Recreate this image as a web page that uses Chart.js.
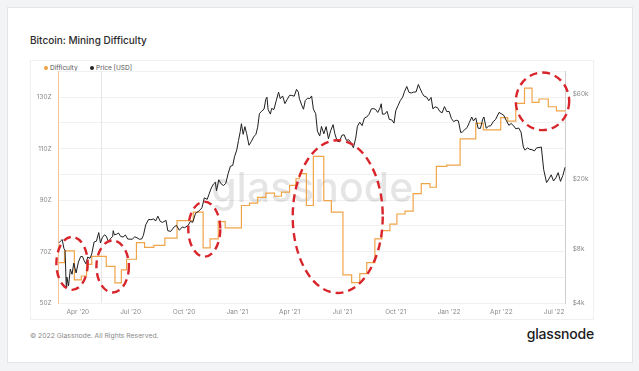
<!DOCTYPE html>
<html>
<head>
<meta charset="utf-8">
<script src="https://cdn.jsdelivr.net/npm/chart.js@4.4.1/dist/chart.umd.min.js"></script>
<style>
  body { margin: 0; width: 639px; height: 371px; background: #f3f4f6; font-family: Inter, "Noto Sans", sans-serif; position: relative; overflow: hidden; }
  .card { position: absolute; left: 7px; top: 7px; width: 626px; height: 356px; box-sizing: border-box; background: #fff; border: 1px solid #e3e5e8; }
  .title { position: absolute; left: 30px; top: 34px; font-size: 10px; font-weight: 500; color: #2b2b2b; white-space: nowrap; }
  .box { position: absolute; left: 30px; top: 60px; width: 564px; height: 260px; box-sizing: border-box; border: 1px solid #efefef; }
  .wrap { position: absolute; left: 30px; top: 60px; width: 564px; height: 260px; }
  .legend { position: absolute; top: 64px; font-size: 6.5px; color: #555; white-space: nowrap; line-height: 8px; }
  .legend i { display: inline-block; width: 4px; height: 4px; border-radius: 50%; margin-right: 2px; vertical-align: 0px; }
  .foot { position: absolute; left: 30px; top: 331px; font-size: 6.8px; color: #8a8a8a; white-space: nowrap; }
  .logo { position: absolute; right: 45px; top: 325px; font-size: 14px; font-weight: 500; color: #1b1b1b; letter-spacing: -0.2px; }
</style>
</head>
<body>
<div class="card"></div>
<div class="title">Bitcoin: Mining Difficulty</div>
<div class="box"></div>
<div class="legend" style="left:44px"><i style="background:#f0a040"></i>Difficulty</div>
<div class="legend" style="left:90px"><i style="background:#222"></i>Price [USD]</div>
<div class="wrap"><canvas id="chart"></canvas></div>
<div class="foot">© 2022 Glassnode. All Rights Reserved.</div>
<div class="logo">glassnode</div>
<script>
// Difficulty (Z hashes), step changes
const diffDates = [
  '2020-02-28','2020-03-09','2020-03-26','2020-04-07','2020-04-16','2020-04-25','2020-05-20','2020-06-04',
  '2020-06-15','2020-06-24','2020-07-11','2020-07-25','2020-08-10','2020-08-29','2020-09-19','2020-10-17',
  '2020-11-03','2020-11-15','2020-11-29','2020-12-11','2021-01-08','2021-01-22','2021-02-05','2021-02-19',
  '2021-03-06','2021-03-18','2021-04-01','2021-04-12','2021-04-18','2021-04-30','2021-05-12','2021-05-30',
  '2021-06-12','2021-07-02','2021-07-17','2021-07-31','2021-08-12','2021-08-26','2021-09-07','2021-09-21',
  '2021-10-03','2021-10-17','2021-10-31','2021-11-14','2021-11-29','2021-12-10','2021-12-28','2022-01-20',
  '2022-02-16','2022-03-01','2022-03-31','2022-04-12','2022-04-26','2022-05-11','2022-05-24','2022-06-05',
  '2022-06-21','2022-07-05','2022-07-21'
];
const diffValues = [
  65.7, 70.3, 59.0, 60.5, 65.0, 68.1, 64.2, 57.8,
  62.9, 67.0, 73.5, 71.6, 72.4, 75.2, 82.0, 85.3,
  71.4, 74.9, 81.6, 79.2, 87.9, 88.8, 91.1, 92.7,
  91.5, 93.1, 95.7, 98.3, 100.3, 87.9, 107.0, 89.8,
  85.3, 60.9, 57.9, 61.4, 65.7, 74.9, 78.1, 80.7,
  84.6, 85.7, 92.5, 96.4, 95.0, 103.1, 103.6, 113.8,
  119.8, 117.3, 122.1, 120.7, 127.6, 133.5, 128.0, 129.3,
  126.3, 124.7, 124.7
];

// BTC price (USD)
const priceDates = [
  '2020-02-28','2020-03-02','2020-03-05','2020-03-08','2020-03-10','2020-03-12','2020-03-13','2020-03-16','2020-03-19','2020-03-22',
  '2020-03-25','2020-03-29','2020-04-02','2020-04-06','2020-04-09','2020-04-12','2020-04-15','2020-04-18','2020-04-22','2020-04-25',
  '2020-04-29','2020-05-03','2020-05-07','2020-05-10','2020-05-13','2020-05-17','2020-05-20','2020-05-24','2020-05-27','2020-05-31',
  '2020-06-01','2020-06-03','2020-06-07','2020-06-10','2020-06-14','2020-06-18','2020-06-22','2020-06-26','2020-06-30','2020-07-04',
  '2020-07-08','2020-07-12','2020-07-16','2020-07-20','2020-07-23','2020-07-27','2020-08-01','2020-08-05','2020-08-10','2020-08-13',
  '2020-08-17','2020-08-21','2020-08-25','2020-08-31','2020-09-03','2020-09-08','2020-09-14','2020-09-18','2020-09-23','2020-09-28',
  '2020-10-02','2020-10-08','2020-10-12','2020-10-16','2020-10-21','2020-10-25','2020-10-28','2020-11-01','2020-11-05','2020-11-10',
  '2020-11-13','2020-11-17','2020-11-21','2020-11-24','2020-11-26','2020-11-30','2020-12-04','2020-12-08','2020-12-12','2020-12-16',
  '2020-12-20','2020-12-24','2020-12-27','2020-12-31','2021-01-03','2021-01-06','2021-01-08','2021-01-11','2021-01-14','2021-01-17',
  '2021-01-21','2021-01-25','2021-01-29','2021-02-02','2021-02-05','2021-02-08','2021-02-12','2021-02-16','2021-02-19','2021-02-21',
  '2021-02-23','2021-02-27','2021-03-01','2021-03-05','2021-03-09','2021-03-13','2021-03-16','2021-03-20','2021-03-24','2021-03-28',
  '2021-04-01','2021-04-05','2021-04-09','2021-04-13','2021-04-16','2021-04-18','2021-04-22','2021-04-25','2021-04-28','2021-05-02',
  '2021-05-06','2021-05-09','2021-05-12','2021-05-16','2021-05-19','2021-05-23','2021-05-26','2021-05-30','2021-06-03','2021-06-07',
  '2021-06-11','2021-06-15','2021-06-18','2021-06-22','2021-06-26','2021-06-30','2021-07-04','2021-07-08','2021-07-12','2021-07-16',
  '2021-07-20','2021-07-24','2021-07-27','2021-07-31','2021-08-04','2021-08-08','2021-08-12','2021-08-16','2021-08-20','2021-08-23',
  '2021-08-27','2021-08-31','2021-09-04','2021-09-06','2021-09-08','2021-09-12','2021-09-16','2021-09-20','2021-09-24','2021-09-28',
  '2021-10-01','2021-10-05','2021-10-09','2021-10-13','2021-10-16','2021-10-20','2021-10-24','2021-10-28','2021-11-01','2021-11-05',
  '2021-11-09','2021-11-12','2021-11-16','2021-11-19','2021-11-23','2021-11-27','2021-12-01','2021-12-04','2021-12-08','2021-12-12',
  '2021-12-16','2021-12-20','2021-12-24','2021-12-28','2022-01-01','2022-01-05','2022-01-09','2022-01-13','2022-01-17','2022-01-21',
  '2022-01-24','2022-01-28','2022-02-01','2022-02-05','2022-02-09','2022-02-12','2022-02-16','2022-02-20','2022-02-24','2022-02-28',
  '2022-03-02','2022-03-06','2022-03-10','2022-03-14','2022-03-18','2022-03-22','2022-03-28','2022-04-01','2022-04-05','2022-04-10',
  '2022-04-14','2022-04-18','2022-04-22','2022-04-26','2022-05-01','2022-05-05','2022-05-09','2022-05-12','2022-05-16','2022-05-20',
  '2022-05-24','2022-05-28','2022-06-01','2022-06-05','2022-06-09','2022-06-13','2022-06-18','2022-06-22','2022-06-26','2022-06-30',
  '2022-07-04','2022-07-08','2022-07-12','2022-07-16','2022-07-20'
];
const priceValues = [
  8700, 8900, 9100, 8100, 7900, 4900, 5600, 5000, 6200, 5800,
  6700, 5900, 6800, 7300, 7300, 6900, 6640, 7250, 7130, 7550,
  8800, 8900, 9950, 8700, 9300, 9670, 9500, 8800, 9200, 9450,
  10200, 9660, 9750, 9900, 9450, 9400, 9650, 9150, 9140, 9130,
  9430, 9300, 9130, 9160, 9600, 11000, 11800, 11750, 11880, 11550,
  12300, 11500, 11350, 11650, 10200, 10100, 10700, 10930, 10250, 10700,
  10600, 10900, 11500, 11350, 12800, 13000, 13300, 13700, 15600, 15300,
  16300, 17700, 18700, 19100, 17100, 19700, 18700, 18300, 18800, 21300,
  23500, 23700, 26500, 29000, 32800, 36800, 40700, 35500, 39200, 35800,
  30800, 32300, 34300, 35500, 38900, 46400, 47900, 49200, 55900, 57400,
  48800, 46100, 49600, 48900, 54800, 61200, 56300, 58300, 52800, 55800,
  58800, 58700, 58100, 63500, 61300, 56200, 51700, 49100, 54900, 56600,
  56400, 58300, 49200, 46400, 37000, 34700, 39300, 35700, 39200, 33500,
  37300, 40200, 35800, 32500, 32200, 35000, 35300, 32800, 33100, 31800,
  29800, 33800, 39400, 41500, 39700, 43800, 44400, 46000, 49300, 49500,
  49100, 47100, 50000, 52700, 46100, 46100, 47800, 43000, 42800, 41000,
  48100, 51500, 55000, 57400, 61500, 65900, 61000, 60600, 61300, 61400,
  67600, 64100, 60100, 58100, 57500, 54800, 57200, 49400, 50600, 50100,
  47700, 46900, 50800, 47600, 47700, 43500, 41800, 42600, 42200, 36300,
  36600, 37700, 38700, 41400, 44400, 42200, 43900, 38400, 38300, 43200,
  44400, 38400, 39400, 39700, 41800, 42900, 47100, 46300, 45500, 42200,
  39900, 40800, 39700, 38100, 38500, 36500, 30100, 28900, 29800, 29200,
  29100, 28600, 29800, 29900, 30100, 22500, 19000, 19900, 21000, 19400,
  20200, 21600, 19300, 20800, 23200
];

// axis ticks
const xStart = '2020-02-28';
const xEnd = '2022-07-21';
const tickDates = ['2020-04-01','2020-07-01','2020-10-01','2021-01-01','2021-04-01','2021-07-01','2021-10-01','2022-01-01','2022-04-01','2022-07-01'];
const tickLabels = ["Apr '20","Jul '20","Oct '20","Jan '21","Apr '21","Jul '21","Oct '21","Jan '22","Apr '22","Jul '22"];
const diffTickLabels = [50, 70, 90, 110, 130];
const priceTicks = [4000, 8000, 20000, 60000];
const halvingDate = '2020-05-11';

// red hand-drawn circles (centre date / difficulty, half sizes in days / Z)
const markDates = ['2020-03-22', '2020-05-31', '2020-11-05', '2021-06-23', '2022-06-11'];
const markValues = [65.4, 64.2, 78.7, 83.6, 128.4];
const markHalfDays = [27, 28, 27.6, 77.6, 46];
const markHalfZ = [10.3, 10.1, 10.7, 29.7, 11.2];

const t = (d) => Date.parse(d);

const watermark = {
    id: 'watermark',
    beforeDatasetsDraw(chart) {
        const { ctx, chartArea, scales } = chart;
        ctx.save();
        // halving line
        const hx = scales.x.getPixelForValue(t(halvingDate));
        ctx.strokeStyle = '#e6e6e6';
        ctx.lineWidth = 1;
        ctx.beginPath();
        ctx.moveTo(Math.round(hx) + 0.5, chartArea.top);
        ctx.lineTo(Math.round(hx) + 0.5, chartArea.bottom);
        ctx.stroke();
        // logo
        ctx.fillStyle = 'rgba(0,0,0,0.1)';
        ctx.font = '500 41px Inter';
        ctx.textAlign = 'center';
        ctx.textBaseline = 'middle';
        ctx.fillText('glassnode', (chartArea.left + chartArea.right) / 2, (chartArea.top + chartArea.bottom) / 2 + 2);
        ctx.restore();
    }
};

const circles = {
    id: 'circles',
    afterDatasetsDraw(chart) {
        const { ctx, scales } = chart;
        ctx.save();
        ctx.strokeStyle = '#d8252b';
        ctx.lineWidth = 2.4;
        ctx.setLineDash([8, 5]);
        markDates.forEach((d, i) => {
            const cx = scales.x.getPixelForValue(t(d));
            const cy = scales.y.getPixelForValue(markValues[i]);
            const rx = scales.x.getPixelForValue(t(d) + markHalfDays[i] * 86400000) - cx;
            const ry = cy - scales.y.getPixelForValue(markValues[i] + markHalfZ[i]);
            ctx.beginPath();
            ctx.ellipse(cx, cy, rx, ry, 0, 0, Math.PI * 2);
            ctx.stroke();
        });
        ctx.restore();
    }
};

Chart.defaults.font.family = 'Inter';
Chart.defaults.font.size = 6.5;
Chart.defaults.color = '#8a8a8a';

new Chart(document.getElementById('chart'), {
    type: 'line',
    data: {
        datasets: [
            {
                label: 'Price [USD]',
                data: priceDates.map((d, i) => ({ x: t(d), y: priceValues[i] })),
                borderColor: '#1f1f1f',
                borderWidth: 1,
                pointRadius: 0,
                yAxisID: 'y1',
            },
            {
                label: 'Difficulty',
                data: diffDates.map((d, i) => ({ x: t(d), y: diffValues[i] })),
                borderColor: '#f0a448',
                borderWidth: 1.2,
                pointRadius: 0,
                stepped: 'before',
                yAxisID: 'y',
            },
        ],
    },
    options: {
        responsive: true,
        maintainAspectRatio: false,
        animation: false,
        layout: { padding: { top: 11.5, left: 0, right: 0, bottom: 0 } },
        plugins: { legend: { display: false }, tooltip: { enabled: false } },
        scales: {
            x: {
                type: 'linear',
                min: t(xStart),
                max: t(xEnd),
                grid: { display: false, drawTicks: false },
                border: { display: false },
                afterBuildTicks: (s) => { s.ticks = tickDates.map((d) => ({ value: t(d) })); },
                afterFit: (s) => { s.height = 17; },
                ticks: {
                    autoSkip: false,
                    maxRotation: 0,
                    padding: 5,
                    callback: (v) => tickLabels[tickDates.findIndex((d) => t(d) === v)],
                },
            },
            y: {
                position: 'left',
                min: 50,
                max: 140,
                grid: { color: '#f1f1f1', drawTicks: false },
                border: { color: 'rgba(240,165,85,0.65)' },
                afterFit: (s) => { s.width = 28.7; },
                ticks: {
                    stepSize: 10,
                    autoSkip: false,
                    padding: 7,
                    callback: (v) => (diffTickLabels.includes(v) ? v + 'Z' : ''),
                },
            },
            y1: {
                type: 'logarithmic',
                position: 'right',
                min: 4000,
                max: 80000,
                grid: { drawOnChartArea: false, drawTicks: false },
                border: { color: '#cfcfcf' },
                afterBuildTicks: (s) => { s.ticks = priceTicks.map((v) => ({ value: v })); },
                afterFit: (s) => { s.width = 28.3; },
                ticks: {
                    autoSkip: false,
                    padding: 7,
                    callback: (v) => '$' + v / 1000 + 'k',
                },
            },
        },
    },
    plugins: [watermark, circles],
});
</script>
</body>
</html>
